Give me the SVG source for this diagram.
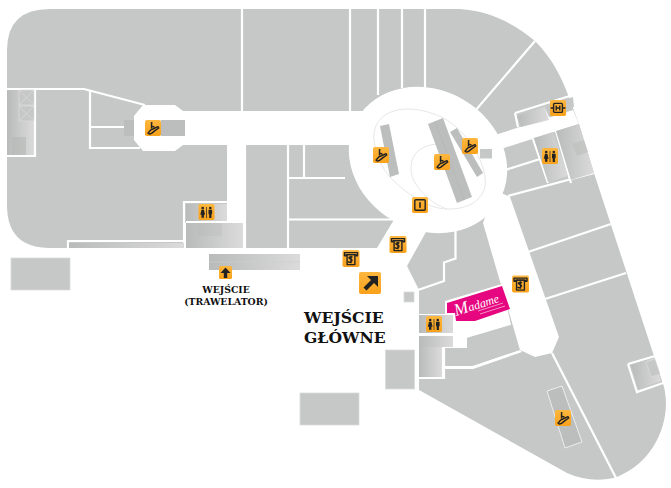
<svg xmlns="http://www.w3.org/2000/svg" width="671" height="488" viewBox="0 0 671 488">
<style>
.g{fill:#c6c8c7}
.w{fill:#fff}
.l{stroke:#fff;stroke-width:2.2;fill:none}
.s{fill:url(#st)}
.e{fill:#bcbebd}
.r{fill:none;stroke:#dfe0df;stroke-width:.8}
.d{fill:#222}
.ds{fill:none;stroke:#222;stroke-width:1.4;stroke-linejoin:round}
.t{font-family:"DejaVu Serif","Liberation Serif",serif;font-weight:700;fill:#111}
</style>
<defs>
<linearGradient id="st" x1="0" x2="1" y1="0" y2="0"><stop offset="0" stop-color="#b9bbba"/><stop offset="1" stop-color="#dadbda"/></linearGradient>
<linearGradient id="or" x1="0" x2="0" y1="0" y2="1"><stop offset="0" stop-color="#fdb73f"/><stop offset="1" stop-color="#f9a11b"/></linearGradient>
<g id="i-esc"><rect width="16" height="16" rx="1.8" fill="url(#or)"/><path class="ds" d="M3 13.200 L5.500 10.200 L9 8.500 L13 6.600 L13.800 8 L10 10.600 L6.500 13.400 Q4 14.600 3 13.200Z" stroke-width="1"/><path class="ds" d="M6.500 8.600V4" stroke-width="1.300"/><circle class="d" cx="6.600" cy="3" r="1"/><path class="ds" d="M6.600 6.300 L9.500 7" stroke-width="1"/></g>
<g id="i-wc"><rect width="16" height="16" rx="1.800" fill="url(#or)"/><g class="d"><circle cx="4.200" cy="4" r="1.300"/><path d="M3 5.800h2.400l1.200 5h-1.200v3h-2.400v-3h-1.200z"/><circle cx="11.800" cy="4" r="1.300"/><path d="M10 5.700h3.600v4.600h-.7v3.600h-2.200v-3.600h-.7z"/></g><path d="M8 3v11" stroke="#222" stroke-width=".7"/></g>
<g id="i-atm"><rect width="17" height="17" rx="1.800" fill="url(#or)"/><path class="ds" d="M2 2.600h13v3.200h-1.600v-1.200h-9.800v1.200h-1.600z" stroke-width="1.100"/><path class="ds" d="M4.600 4.600h7.800v10h-7.800z" stroke-width="1.100"/><path class="ds" d="M10 7.200q-1.500-1-3 0t1.500 2q2 1 0 2.400t-3-.2M8.500 5.800v7.400" stroke-width="1"/></g>
<g id="i-lift"><rect width="16" height="16" rx="1.800" fill="url(#or)"/><rect x="3.600" y="3.400" width="8.800" height="9" rx="1" class="ds"/><path class="ds" d="M6.200 5.500v5M9.800 5.500v5M6.200 8h3.600" stroke-width="1.100"/><path class="ds" d="M.6 8h2.600M12.800 8h2.600" stroke-width=".9"/></g>
<g id="i-info"><rect width="16" height="16" rx="1.800" fill="url(#or)"/><rect x="2.800" y="2.800" width="10.400" height="10.400" rx="1" class="ds"/><rect x="7.200" y="5.200" width="1.600" height="5.600" class="d"/></g>
</defs>
<rect width="671" height="488" fill="#fff"/>

<g id="building">
<path class="g" d="M7 50Q7 9 50 9H460C490 11 515 24 535 41C552 58 562 78 568 95L579 124L594 173L653 353L664 387C672 420 655 462 617 477C600 482 583 480 567 473L419 390V290L407 266L426 232L395 218L377 248H50Q7 248 7 205Z"/>
<rect class="w" x="170" y="111" width="200" height="34"/>
<path class="w" d="M143 105H175L183 111V145L175 151H143L134 140V116Z"/>
<rect class="w" x="227" y="145" width="18" height="105"/>
<ellipse class="w" cx="428" cy="160" rx="82" ry="70" transform="rotate(30 428 160)"/>
<path class="w" d="M495 135L573 110L579 124L501 149Z"/>
<path class="w" d="M483 223L520 350L535 357L552 353L559 337L510 197L495 190Z"/>
<path class="l" d="M242 9V111M350 9V111M378 9V95M402 9V88M425 9V88M475 111L535 41"/>
<path class="l" d="M6 89H84L145 105M90 90V148H140M90 127H125M35 89V156H6"/>
<path class="l" d="M68 248V241H184M184 248V202H227M186 222H243M245 145V250M288 145V250M304 145V177M288 178H345M288 219.500H395M186 248V223"/>
<path class="l" d="M515 113L573 95M518 127L515 113M545 106L549 118"/>
<path class="l" d="M502 171L540 159M533 139L548 183M556 131L571 183M508 196L594 173"/>
<path class="l" d="M528 252L611 224M545 299L626 273"/>
<path class="l" d="M552 353L616 478"/>
<path class="l" d="M455.500 228V258.500L444 262.500V281L418 290"/>
<path class="w" d="M445 301L502 284L511 325L467 338V348H444V366H472L520 350L522 352L473 369H444V379H418V314H445Z"/>
<path class="g" d="M467 338L511 325L519 350L472 366H444V348H467Z"/>
<rect class="s" x="7" y="90" width="27" height="65"/>
<g fill="#c6c8c7" stroke="#dcdcdc" stroke-width=".6"><rect x="19" y="90" width="15" height="15"/><rect x="19" y="106" width="15" height="15"/><path d="M19 90L34 105M34 90L19 105M19 106L34 121M34 106L19 121" fill="none"/></g>
<rect x="12" y="137" width="14" height="18" fill="#b5b7b6" opacity=".6"/>
<rect class="s" x="186" y="204" width="41" height="17"/>
<rect class="s" x="186" y="223" width="57" height="25"/>
<rect x="197" y="223" width="25" height="13" fill="#b5b7b6" opacity=".3"/>
<rect class="s" x="69" y="243" width="115" height="5"/>
<path class="e" d="M124 120H134V136H124Z"/><rect class="e" x="161" y="120" width="24" height="16"/>
<path class="s" d="M517 116L544 107L549 120L521 127Z"/>
<path class="g" d="M544 106L573 97L574 107L549 117Z"/>
<path class="s" d="M534 138L553 132L568 176L548 182Z"/>
<path class="s" d="M556 131L579 124L594 173L571 180Z"/>
<path d="M572 144L584 140L588 152L577 156Z" fill="#bcbebd" opacity=".6"/>
<rect class="g" x="480" y="149" width="12" height="9.500"/>
<rect class="s" x="419" y="315" width="34" height="18"/>
<rect class="s" x="419" y="336" width="34" height="11"/>
<rect class="s" x="419" y="347" width="23" height="30"/>
<path class="l" d="M418 334.500H453M418 378H444V348"/>
<path class="l" d="M628 364L655 356M628 364L637 392L663 383"/>
<path class="s" d="M631 365L654 358L661 381L638 389Z"/>
<path d="M646 362L655 359L660 374L651 377Z" fill="#c6c8c7" stroke="#dcdcdc" stroke-width=".6"/>
<g stroke="#dadbda" stroke-width=".8"><rect class="g" x="11" y="258" width="59" height="32"/>
<rect class="g" x="300" y="393" width="59" height="32"/>
<rect class="g" x="385.500" y="350" width="29" height="39"/>
<rect class="g" x="404" y="292" width="10" height="10"/></g>
<rect class="s" x="209" y="254" width="91" height="16"/>
<path d="M209 262H300" stroke="#cfd0cf" stroke-width=".6"/>
<path class="r" d="M408 109C390 109 372 118 374 140C376 158 384 172 395 182C410 196 430 209 447 209C472 210 488 196 485 177C482 155 465 132 447 120C435 113 420 109 408 109Z"/>
<path class="r" d="M444 145C436 143 425 145 418 151C410 158 409 172 414 181C420 192 432 204 447 209"/>
<path class="e" d="M380 126L389 124L399 174L390 177Z"/>
<path class="e" d="M428 124L443 118L472 197L457 203Z"/>
<path d="M435 121L464 200" stroke="#b0b2b1" stroke-width=".5"/>
<path class="e" d="M450 132L457 128L483 173L477 177Z"/>
<path d="M547 391L562 386L582 442L565 448Z" fill="#bcbebd" stroke="#eceded" stroke-width="1"/>
<g id="madame"><path d="M447 303L502 286L510 309L475 321L456 321L455 313H447Z" fill="#e6067f"/>
<text transform="translate(456 316) rotate(-18)" font-family="'Liberation Serif',serif" font-style="italic" font-size="12" fill="#fff"><tspan font-size="17">M</tspan>adame</text>
<path d="M478 311L503 303M480 314L505 306" stroke="#f7b5d6" stroke-width=".8"/></g>
</g>

<g id="icons">
<use href="#i-esc" x="145" y="120"/>
<use href="#i-wc" x="198.500" y="204"/>
<use href="#i-lift" x="550" y="100"/>
<use href="#i-wc" x="542" y="148"/>
<use href="#i-esc" x="373" y="147"/>
<use href="#i-esc" x="434" y="154"/>
<use href="#i-esc" x="462" y="138"/>
<use href="#i-info" x="412" y="197"/>
<use href="#i-atm" x="389.500" y="236"/>
<use href="#i-atm" x="342.500" y="250"/>
<use href="#i-atm" x="512" y="275.500"/>
<use href="#i-wc" x="426" y="316"/>
<use href="#i-esc" x="555" y="410"/>
<g id="enter-main"><rect x="359" y="272" width="22" height="22" rx="2" fill="url(#or)"/><path d="M363.500 287.500L371 280L367 276H378V287L374 283L366.500 290.500Z" class="d"/></g>
<g id="enter-trav"><rect x="219" y="266" width="13" height="13" rx="1.500" fill="url(#or)"/><path d="M225.500 267.500L230.500 273H227.200V278H223.800V273H220.500Z" class="d"/></g>
</g>

<g id="labels">
<text class="t" font-size="9.300" text-anchor="middle" x="226" y="293">WEJŚCIE</text>
<text class="t" font-size="9.300" text-anchor="middle" x="226" y="305">(TRAWELATOR)</text>
<text class="t" font-size="15.600" x="304" y="323">WEJŚCIE</text>
<text class="t" font-size="15.600" x="304" y="343">GŁÓWNE</text>
</g>
</svg>
